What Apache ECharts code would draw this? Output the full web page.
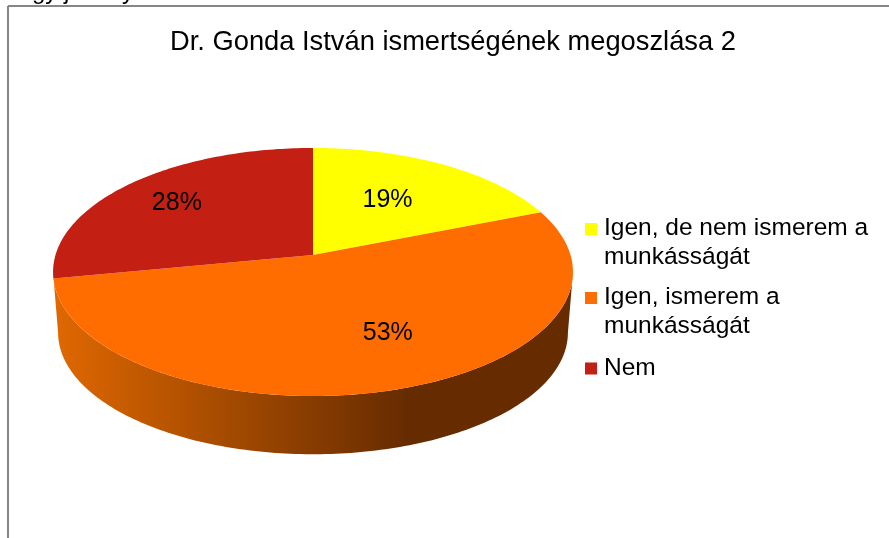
<!DOCTYPE html>
<html>
<head>
<meta charset="utf-8">
<style>
  html, body { margin: 0; padding: 0; background: #fff; }
  #main { width: 889px; height: 538px; }
</style>
<script src="https://cdn.jsdelivr.net/npm/echarts@6/dist/echarts.min.js"></script>
</head>
<body>
<div id="main"></div>
<script>
const titleText = 'Dr. Gonda István ismertségének megoszlása 2'
const categories = ['Igen, de nem ismerem a\nmunkásságát', 'Igen, ismerem a\nmunkásságát', 'Nem']
const shares = [19, 53, 28]
const colors = ['#ffff00', '#ff6d00', '#c31f12']

// where the percent sits inside each slice (fraction of radius, degrees off the bisector)
const labelRadius = [0.58, 0.64, 0.73]
const labelShift = [-2, -8.5, 0]

// perspective of the disc: K is the foreshortening of the far edge
const K = 0.137
const topPlane = { cx: 313, cy: 255, a: 257.5, b: 121.7 }
const bottomPlane = { cx: 313, cy: 316, a: 252.5, b: 119.3 }

const project = (plane, deg, f = 1) => {
  const t = deg * Math.PI / 180
  const u = f * Math.sin(t)
  const v = f * Math.cos(t)
  const w = 1 + K * v
  return [plane.cx + plane.a * u / w, plane.cy - plane.b * v / w]
}

const arc = (plane, from, to) => {
  const n = Math.max(2, Math.ceil(Math.abs(to - from)))
  const pts = []
  for (let i = 0; i <= n; i++) pts.push(project(plane, from + (to - from) * i / n))
  return pts
}

const total = shares.reduce((a, b) => a + b, 0)
const startOf = i => shares.slice(0, i).reduce((a, b) => a + b, 0) / total * 360

const sliceSeries = categories.map((name, i) => ({
  type: 'custom',
  name,
  coordinateSystem: 'none',
  itemStyle: { color: colors[i] },
  silent: true,
  z: 3,
  data: [[shares[i]]],
  renderItem: (params, api) => {
    const from = startOf(i)
    const to = from + api.value(0) / total * 360
    const p = project(topPlane, (from + to) / 2 + labelShift[i], labelRadius[i])
    return {
      type: 'group',
      children: [
        {
          type: 'polygon',
          shape: { points: [[topPlane.cx, topPlane.cy], ...arc(topPlane, from, to)] },
          style: { fill: colors[i] },
        },
        {
          type: 'text',
          z2: 10,
          style: {
            x: p[0],
            y: p[1] + 1,
            text: api.value(0) + '%',
            fill: '#000',
            font: '25px "Liberation Sans", Arial, sans-serif',
            align: 'center',
            verticalAlign: 'middle',
          },
        },
      ],
    }
  },
}))

// side wall of the disc, front half only
const edge = Math.acos(-K) * 180 / Math.PI
const wallSeries = {
  type: 'custom',
  name: 'wall',
  coordinateSystem: 'none',
  silent: true,
  z: 2,
  data: [[1]],
  renderItem: () => {
    const upper = arc(topPlane, edge, 360 - edge)
    const lower = arc(bottomPlane, 360 - edge, edge)
    return {
      type: 'polygon',
      shape: { points: [...upper, ...lower] },
      style: {
        fill: new echarts.graphic.LinearGradient(0, 0, 1, 0, [
          { offset: 0, color: '#e06800' },
          { offset: 0.68, color: '#662c00' },
          { offset: 1, color: '#662c00' },
        ]),
      },
    }
  },
}

const legendBase = {
  orient: 'vertical',
  itemGap: 11,
  selectedMode: false,
  textStyle: { color: '#000', fontSize: 24.5, lineHeight: 29, fontFamily: '"Liberation Sans", Arial, sans-serif' },
}

const cutOffFont = '24px "Liberation Sans", Arial, sans-serif'

const chart = echarts.init(document.getElementById('main'), null, { renderer: 'canvas' })
chart.setOption({
  animation: false,
  backgroundColor: '#fff',
  title: {
    text: titleText,
    left: 165,
    top: 24,
    textStyle: { color: '#000', fontSize: 27.3, fontWeight: 'normal', fontFamily: '"Liberation Sans", Arial, sans-serif' },
  },
  legend: [
    {
      ...legendBase,
      left: 580,
      top: 209,
      // square sits on the first text line, stray point keeps the box as tall as both lines
      icon: 'path://M0 0H12V12H0Z M14 40H14.01V40.01H14Z',
      itemWidth: 14,
      itemHeight: 40,
      data: categories.slice(0, 2),
    },
    {
      ...legendBase,
      left: 580,
      top: 349,
      icon: 'path://M0 0H12V12H0Z M14 12H14.01V12.01H14Z',
      itemWidth: 14,
      itemHeight: 12,
      data: categories.slice(2),
    },
  ],
  graphic: [
    { type: 'line', shape: { x1: 8, y1: 6, x2: 889, y2: 6 }, style: { stroke: '#868686', lineWidth: 2 } },
    { type: 'line', shape: { x1: 8, y1: 6, x2: 8, y2: 538 }, style: { stroke: '#868686', lineWidth: 2 } },
    // bottom edge of the line of text cut off above the frame
    { type: 'text', style: { x: 32, y: 4, text: 'gy j', fill: '#000', font: cutOffFont, verticalAlign: 'bottom' } },
    { type: 'text', style: { x: 122, y: 4, text: 'y', fill: '#000', font: cutOffFont, verticalAlign: 'bottom' } },
  ],
  series: [wallSeries, ...sliceSeries],
})
</script>
</body>
</html>
